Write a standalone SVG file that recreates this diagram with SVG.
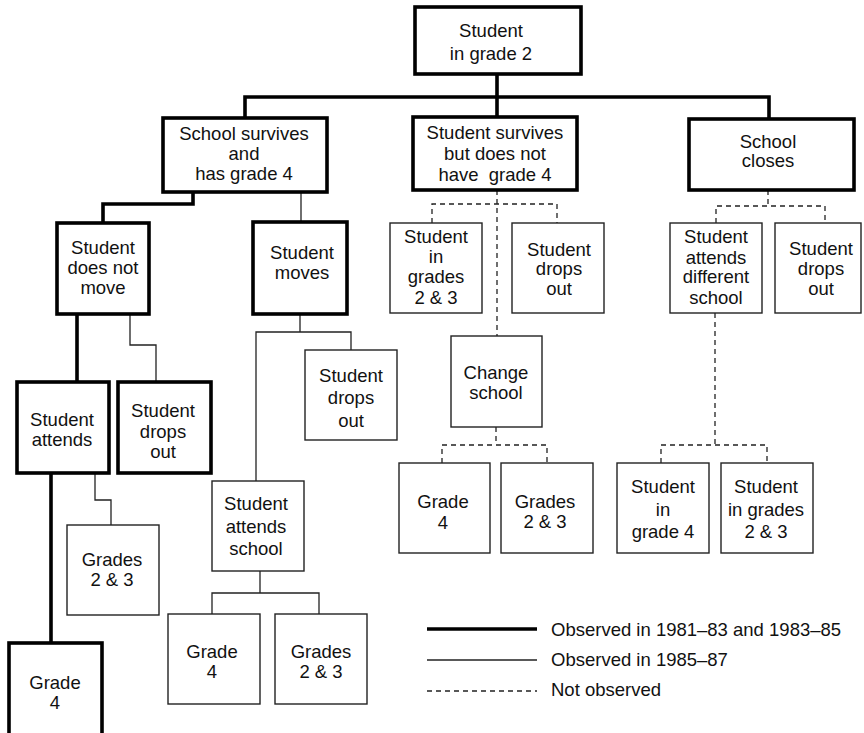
<svg xmlns="http://www.w3.org/2000/svg" width="864" height="733" viewBox="0 0 864 733">
<style>
text{font-family:"Liberation Sans",Arial,Helvetica,sans-serif;font-size:18.5px;fill:#111;text-anchor:middle}
.bt{fill:#fff;stroke:#000;stroke-width:3.6}
.bn{fill:#fff;stroke:#222;stroke-width:1.4}
.ct{fill:none;stroke:#000;stroke-width:3.6}
.cn{fill:none;stroke:#222;stroke-width:1.3}
.cd{fill:none;stroke:#222;stroke-width:1.3;stroke-dasharray:5 4}
</style>
<rect width="864" height="733" fill="#fff"/>
<g id="connectors">
<path class="ct" d="M497,74V97M245,118V97H769V119M497,97V117"/>
<path class="ct" d="M193,192V204H103V223"/>
<path class="ct" d="M77,314V382"/>
<path class="ct" d="M51,473V643"/>
<path class="cn" d="M301,192V222"/>
<path class="cn" d="M130,314V345H156V382"/>
<path class="cn" d="M95,473V500H111V525"/>
<path class="cn" d="M300,314V332M256,481V332H351V350"/>
<path class="cn" d="M260,571V593M212,614V593H319V614"/>
<path class="cd" d="M497,190V336M432,223V204H557V223"/>
<path class="cd" d="M496,427V445M442,463V445H547V463"/>
<path class="cd" d="M768,190V206M716,223V206H825V223"/>
<path class="cd" d="M715,313V445M661,463V445H767V463"/>
</g>
<g id="root"><rect class="bt" x="415" y="7" width="166" height="67"/><text x="491" y="37">Student</text><text x="491" y="60">in grade 2</text></g>
<g id="school-survives"><rect class="bt" x="163" y="118" width="164" height="74"/><text x="244" y="140">School survives</text><text x="244" y="160">and</text><text x="244" y="180">has grade 4</text></g>
<g id="student-survives"><rect class="bt" x="413" y="117" width="164" height="73"/><text x="495" y="139">Student survives</text><text x="495" y="160">but does not</text><text x="495" y="181" xml:space="preserve">have  grade 4</text></g>
<g id="school-closes"><rect class="bt" x="689" y="119" width="165" height="71"/><text x="768" y="148">School</text><text x="768" y="167">closes</text></g>
<g id="not-move"><rect class="bt" x="57" y="223" width="92" height="91"/><text x="103" y="254">Student</text><text x="103" y="274">does not</text><text x="103" y="294">move</text></g>
<g id="moves"><rect class="bt" x="253" y="222" width="94" height="92"/><text x="302" y="259">Student</text><text x="302" y="279">moves</text></g>
<g id="attends"><rect class="bt" x="17" y="382" width="92" height="91"/><text x="62" y="426">Student</text><text x="62" y="446">attends</text></g>
<g id="drops-left"><rect class="bt" x="118" y="382" width="93" height="91"/><text x="163" y="417">Student</text><text x="163" y="438">drops</text><text x="163" y="458">out</text></g>
<g id="grades23-left"><rect class="bn" x="67" y="525" width="92" height="90"/><text x="112" y="566">Grades</text><text x="112" y="586">2 &amp; 3</text></g>
<g id="grade4-left"><rect class="bt" x="9" y="643" width="93" height="100"/><text x="55" y="689">Grade</text><text x="55" y="709">4</text></g>
<g id="drops-moves"><rect class="bn" x="305" y="350" width="92" height="90"/><text x="351" y="382">Student</text><text x="351" y="404">drops</text><text x="351" y="427">out</text></g>
<g id="attends-school"><rect class="bn" x="212" y="481" width="92" height="90"/><text x="256" y="510">Student</text><text x="256" y="533">attends</text><text x="256" y="555">school</text></g>
<g id="grade4-moves"><rect class="bn" x="168" y="614" width="92" height="90"/><text x="212" y="658">Grade</text><text x="212" y="678">4</text></g>
<g id="grades23-moves"><rect class="bn" x="275" y="614" width="92" height="90"/><text x="321" y="658">Grades</text><text x="321" y="678">2 &amp; 3</text></g>
<g id="in-grades23"><rect class="bn" x="390" y="223" width="92" height="90"/><text x="436" y="243">Student</text><text x="436" y="263">in</text><text x="436" y="283">grades</text><text x="436" y="304">2 &amp; 3</text></g>
<g id="drops-mid"><rect class="bn" x="512" y="223" width="92" height="90"/><text x="559" y="256">Student</text><text x="559" y="275">drops</text><text x="559" y="295">out</text></g>
<g id="change-school"><rect class="bn" x="451" y="336" width="91" height="91"/><text x="496" y="379">Change</text><text x="496" y="399">school</text></g>
<g id="grade4-mid"><rect class="bn" x="399" y="463" width="91" height="90"/><text x="443" y="508">Grade</text><text x="443" y="529">4</text></g>
<g id="grades23-mid"><rect class="bn" x="501" y="463" width="92" height="90"/><text x="545" y="508">Grades</text><text x="545" y="528">2 &amp; 3</text></g>
<g id="attends-different"><rect class="bn" x="670" y="223" width="92" height="90"/><text x="716" y="243">Student</text><text x="716" y="264">attends</text><text x="716" y="283">different</text><text x="716" y="304">school</text></g>
<g id="drops-right"><rect class="bn" x="775" y="223" width="86" height="90"/><text x="821" y="255">Student</text><text x="821" y="275">drops</text><text x="821" y="295">out</text></g>
<g id="in-grade4"><rect class="bn" x="617" y="463" width="92" height="90"/><text x="663" y="493">Student</text><text x="663" y="516">in</text><text x="663" y="538">grade 4</text></g>
<g id="in-grades23-right"><rect class="bn" x="721" y="463" width="92" height="90"/><text x="766" y="493">Student</text><text x="766" y="516">in grades</text><text x="766" y="538">2 &amp; 3</text></g>
<g id="legend">
<path class="ct" d="M427,629H537"/>
<path class="cn" d="M427,660H537"/>
<path class="cd" d="M427,691H537"/>
<text x="551" y="636" style="text-anchor:start">Observed in 1981–83 and 1983–85</text>
<text x="551" y="666" style="text-anchor:start">Observed in 1985–87</text>
<text x="551" y="696" style="text-anchor:start">Not observed</text>
</g>
</svg>
